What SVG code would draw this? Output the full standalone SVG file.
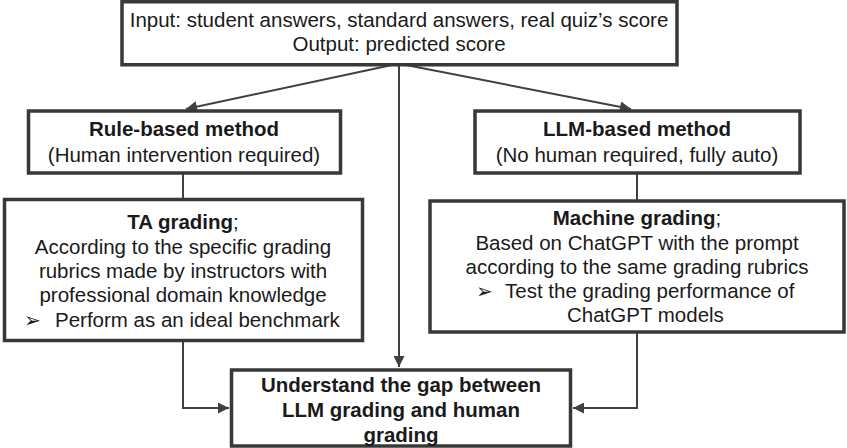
<svg xmlns="http://www.w3.org/2000/svg" width="847" height="448" viewBox="0 0 847 448">
<defs>
<marker id="ah" viewBox="0 0 10 10" markerWidth="13" markerHeight="11" refX="10" refY="5" orient="auto" markerUnits="userSpaceOnUse">
<path d="M0,0 L10,5 L0,10 z" fill="#404040"/>
</marker>
<style>
.box{fill:#fff;stroke:#383838;stroke-width:3.5}
.t{font-family:"Liberation Sans",Arial,sans-serif;font-size:20.5px;fill:#1a1a1a;text-anchor:middle}
.s{text-anchor:start}
.b{font-weight:bold}
.bul{font-family:"DejaVu Sans",sans-serif;font-size:20px;fill:#1a1a1a}
.c{fill:none;stroke:#404040;stroke-width:2}
</style>
</defs>
<rect width="847" height="448" fill="#fff"/>
<g id="connectors">
<path class="c" d="M392,65 L186,109" marker-end="url(#ah)"/>
<path class="c" d="M406,65 L631,109" marker-end="url(#ah)"/>
<path class="c" d="M399,65 L399,367" marker-end="url(#ah)"/>
<path class="c" d="M183,173 L183,198"/>
<path class="c" d="M637,173 L637,200"/>
<path class="c" d="M183,341 L183,408 L229,408" marker-end="url(#ah)"/>
<path class="c" d="M637,332 L637,408 L573,408" marker-end="url(#ah)"/>
</g>
<g id="input">
<rect class="box" x="122" y="1.75" width="555" height="63"/>
<text class="t" x="399" y="27">Input: student answers, standard answers, real quiz’s score</text>
<text class="t" x="399" y="51">Output: predicted score</text>
</g>
<g id="rule">
<rect class="box" x="28.5" y="111" width="312" height="62"/>
<text class="t b" x="184" y="136">Rule-based method</text>
<text class="t" x="184" y="162">(Human intervention required)</text>
</g>
<g id="llm">
<rect class="box" x="475" y="111" width="325" height="62"/>
<text class="t b" x="637" y="136">LLM-based method</text>
<text class="t" x="637" y="162">(No human required, fully auto)</text>
</g>
<g id="ta">
<rect class="box" x="4.5" y="199.5" width="358" height="141"/>
<text class="t" x="183" y="229"><tspan class="b">TA grading</tspan>;</text>
<text class="t" x="183" y="254">According to the specific grading</text>
<text class="t" x="183" y="278">rubrics made by instructors with</text>
<text class="t" x="183" y="302">professional domain knowledge</text>
<text class="bul" x="24" y="327">➢</text>
<text class="t s" x="55" y="327">Perform as an ideal benchmark</text>
</g>
<g id="machine">
<rect class="box" x="430" y="201" width="414" height="131"/>
<text class="t" x="637" y="225"><tspan class="b">Machine grading</tspan>;</text>
<text class="t" x="637" y="250">Based on ChatGPT with the prompt</text>
<text class="t" x="637" y="274">according to the same grading rubrics</text>
<text class="bul" x="476" y="298">➢</text>
<text class="t s" x="505" y="298">Test the grading performance of</text>
<text class="t s" x="567" y="322">ChatGPT models</text>
</g>
<g id="gap">
<rect class="box" x="231.5" y="370" width="339" height="76"/>
<text class="t b" x="401" y="392">Understand the gap between</text>
<text class="t b" x="401" y="417">LLM grading and human</text>
<text class="t b" x="401" y="442">grading</text>
</g>
</svg>
